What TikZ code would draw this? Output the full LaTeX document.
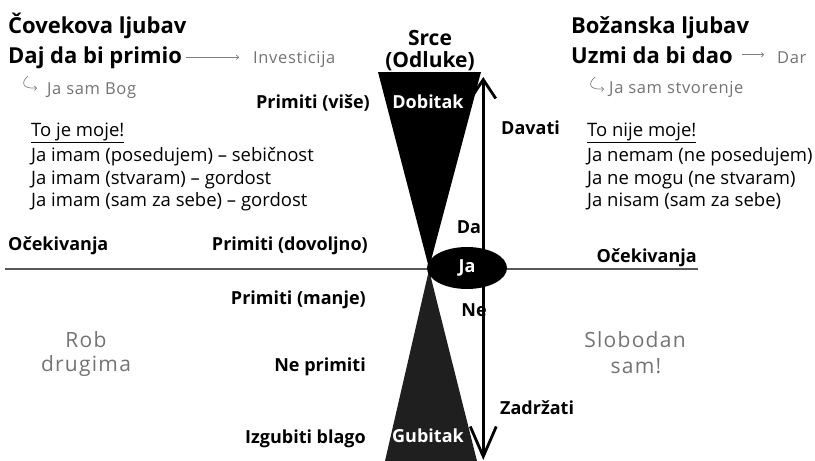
\documentclass[tikz,border=0pt]{standalone}
\usepackage{fontspec}
\setmainfont{Open Sans}
\usetikzlibrary{arrows.meta,shapes.geometric}
\tikzset{
  head/.style={font=\bfseries\fontsize{22}{25}\selectfont, anchor=base west, inner sep=0pt},
  lbl/.style={font=\bfseries\fontsize{18}{21}\selectfont, inner sep=0pt},
  txt/.style={font=\fontsize{18.5}{22}\selectfont, anchor=base west, inner sep=0pt},
  soft/.style={font=\fontsize{16.5}{19}\selectfont\addfontfeature{LetterSpace=4}, text=black!55, inner sep=0pt},
  bigsoft/.style={font=\fontsize{21}{24}\selectfont\addfontfeature{LetterSpace=6}, text=black!55, inner sep=0pt},
  inlbl/.style={lbl, text=white},
  thinarrow/.style={black!50, line width=0.7pt, -{To[length=3pt,width=5pt]}},
  bigarrow/.style={line width=2.8pt, -{Straight Barb[length=19pt,width=25pt]}},
}
\begin{document}
\begin{tikzpicture}[x=1pt,y=-1pt]
  \useasboundingbox (0,0) rectangle (815,461);
  % hourglass
  \fill (378,72) -- (481,72) -- (429,268) -- cycle;
  \fill [black!88] (429,270) -- (477,461) -- (385,461) -- cycle;
  \draw [black!65, line width=1.4pt] (5,269) -- (698,269);

  % left side
  \node [head] (human) at (8,33) {Čovekova ljubav};
  \node [head] (daj) at (8,63) {Daj da bi primio};
  \node [soft, anchor=base west] (inv) at (253,63) {Investicija};
  \node [soft, anchor=base west] (bog) at (47,94) {Ja sam Bog};
  \coordinate (bog hook) at (28,76);
  \draw [thinarrow] ([xshift=4pt]daj.east) -- ([xshift=-14pt]inv.west |- daj.east);
  \draw [thinarrow] (bog hook) .. controls (20,83) and (23,89) .. (37,88);
  \node [txt] (mine) at (31,136) {\underline{To je moje!}};
  \node [txt] (own1) at (31,161) {Ja imam (posedujem) – sebičnost};
  \node [txt] (own2) at (31,184) {Ja imam (stvaram) – gordost};
  \node [txt] (own3) at (31,206) {Ja imam (sam za sebe) – gordost};
  \node [lbl, anchor=base west] (expl) at (8,250) {Očekivanja};
  \node [bigsoft] (rob) at (86,340) {Rob};
  \node [bigsoft] (drugima) at (86,366) {drugima};

  % labels along the hourglass
  \node [lbl, anchor=base east] (more) at (370,108) {Primiti (više)};
  \node [lbl, anchor=base east] (enough) at (368,250) {Primiti (dovoljno)};
  \node [lbl, anchor=base east] (less) at (366,304) {Primiti (manje)};
  \node [lbl, anchor=base east] (none) at (366,371) {Ne primiti};
  \node [lbl, anchor=base east] (lose) at (366,443) {Izgubiti blago};
  \node [head, anchor=base, font=\bfseries\fontsize{21}{25}\selectfont] (srce) at (430,45) {Srce};
  \node [head, anchor=base, font=\bfseries\fontsize{21}{25}\selectfont] (odluke) at (430,67) {(Odluke)};
  \node [inlbl, anchor=base] (gain) at (428,108) {Dobitak};
  \node [inlbl, anchor=base] (loss) at (428,442) {Gubitak};

  % the I and its two ways
  \node [ellipse, fill, minimum width=80pt, minimum height=42pt, inner sep=0pt] (ja) at (467,268) {};
  \node [inlbl] (jatext) at (ja) {Ja};
  \coordinate (give end) at (492,77);
  \coordinate (keep end) at (492,460);
  \draw [bigarrow] (ja.50) -- (ja.50 |- give end);
  \draw [bigarrow, -{Straight Barb[length=30pt,width=26pt]}] (ja.-50) -- (ja.-50 |- keep end);
  \node [lbl, anchor=base] (yes) at (469,233) {Da};
  \node [lbl, anchor=base] (no) at (474,316) {Ne};
  \node [lbl, anchor=base west] (davati) at (501,134) {Davati};
  \node [lbl, anchor=base west] (zadrzati) at (500,414) {Zadržati};

  % right side
  \node [head] (divine) at (571,33) {Božanska ljubav};
  \node [head] (uzmi) at (571,63) {Uzmi da bi dao};
  \node [soft, anchor=base west] (dar) at (777,63) {Dar};
  \node [soft, anchor=base west] (creat) at (609,93) {Ja sam stvorenje};
  \coordinate (creat hook) at (595,77);
  \draw [thinarrow] ([xshift=-35pt]dar.west |- uzmi.east) -- ([xshift=-13pt]dar.west |- uzmi.east);
  \draw [thinarrow] (creat hook) .. controls (587,84) and (590,90) .. (604,89);
  \node [txt] (notmine) at (587,136) {\underline{To nije moje!}};
  \node [txt] (not1) at (587,161) {Ja nemam (ne posedujem)};
  \node [txt] (not2) at (587,184) {Ja ne mogu (ne stvaram)};
  \node [txt] (not3) at (587,206) {Ja nisam (sam za sebe)};
  \node [lbl, anchor=base east] (expr) at (697,262) {Očekivanja};
  \node [bigsoft] (slob) at (635,340) {Slobodan};
  \node [bigsoft] (sam) at (636,366) {sam!};
\end{tikzpicture}
\end{document}
